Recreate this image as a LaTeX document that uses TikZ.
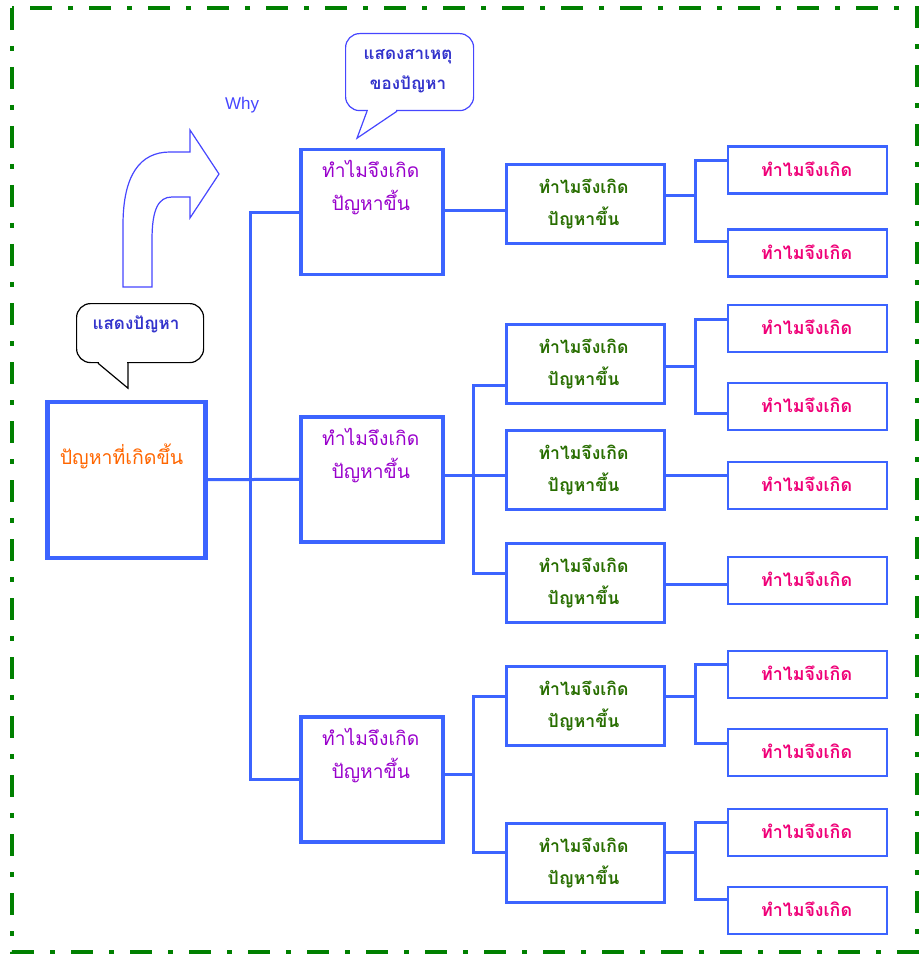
\documentclass[tikz,border=0pt]{standalone}
\usepackage{fontspec}
\setmainfont{Liberation Sans}
\newfontfamily\thai[Script=Thai]{Loma}
\usetikzlibrary{calc}
\definecolor{boxblue}{RGB}{60,100,255}
\definecolor{framegreen}{RGB}{0,128,0}
\definecolor{lonetext}{RGB}{153,0,204}
\definecolor{ltwotext}{RGB}{40,110,0}
\definecolor{lthreetext}{RGB}{240,0,120}
\definecolor{maintext}{RGB}{255,102,0}
\definecolor{calltext}{RGB}{51,51,204}
\definecolor{arrowblue}{RGB}{70,70,255}
\tikzset{
  boxbase/.style={draw=boxblue, fill=white, inner sep=0pt, anchor=north west},
  mainbox/.style={boxbase, line width=4.5pt, minimum width=158pt, minimum height=156pt},
  lonebox/.style={boxbase, line width=3.5pt, minimum width=142pt, minimum height=125pt},
  ltwobox/.style={boxbase, line width=3pt, minimum width=158pt, minimum height=78.5pt},
  lthreebox/.style={boxbase, line width=2.2pt, minimum width=159pt, minimum height=47pt},
  conn/.style={draw=boxblue, line width=3pt},
  lonetxt/.style={text=lonetext, font=\thai\fontsize{19.2}{33}\selectfont, align=center, inner sep=0pt},
  ltwotxt/.style={text=ltwotext, font=\thai\bfseries\fontsize{17.6}{32}\selectfont, align=center, inner sep=0pt},
  lthreetxt/.style={text=lthreetext, font=\thai\bfseries\fontsize{17.8}{20}\selectfont, inner sep=0pt},
  calltxt/.style={text=calltext, font=\thai\bfseries\fontsize{17}{30}\selectfont, align=center, inner sep=0pt},
}
\begin{document}
\begin{tikzpicture}[x=1pt,y=-1pt]
\useasboundingbox (0,0) rectangle (922,957);
% frame
\draw[framegreen, line width=4pt, dash pattern=on 22pt off 16pt on 5pt off 16pt] (12,8) rectangle (917,952);

% main box
\node[mainbox] (main) at (45,399.5) {};
\node[text=maintext, font=\thai\fontsize{19.5}{20}\selectfont, inner sep=0pt] (maint) at (121.5,456) {ปัญหาที่เกิดขึ้น};

% level 1
\node[lonebox] (l1a) at (299,148) {};
\node[lonebox] (l1b) at (299,415) {};
\node[lonebox] (l1c) at (299,715) {};
\node[lonetxt] (l1at) at ($(l1a.north)+(-1,40)$) {ทำไมจึงเกิด\\ปัญหาขึ้น};
\node[lonetxt] (l1bt) at ($(l1b.north)+(-1,41)$) {ทำไมจึงเกิด\\ปัญหาขึ้น};
\node[lonetxt] (l1ct) at ($(l1c.north)+(-1,41)$) {ทำไมจึงเกิด\\ปัญหาขึ้น};

% level 2
\node[ltwobox] (l2a) at (505,163.5) {};
\node[ltwobox] (l2b) at (505,323) {};
\node[ltwobox] (l2c) at (505,429) {};
\node[ltwobox] (l2d) at (505,542) {};
\node[ltwobox] (l2e) at (505,665) {};
\node[ltwobox] (l2f) at (505,822) {};
\foreach \n in {a,b,c,d,e,f}{
  \node[ltwotxt] (l2\n t) at ($(l2\n.center)+(-2,0)$) {ทำไมจึงเกิด\\ปัญหาขึ้น};
}

% level 3
\foreach \n/\y in {1/145.5,2/228.5,3/303.5,4/382,5/460.5,6/555.5,7/649.5,8/728,9/807.5,10/885.5}{
  \node[lthreebox] (l3-\n) at (727,\y) {};
  \node[lthreetxt] (l3-\n t) at ($(l3-\n.center)+(-1,-1)$) {ทำไมจึงเกิด};
}

% connectors main -> level 1
\coordinate (trunk) at (250,0);
\draw[conn] (main.east) -- (l1b.west);
\draw[conn] (l1a.west) -| (trunk |- l1c.west) -- (l1c.west);

% level 1 -> level 2
\coordinate (bktone) at (473,0);
\draw[conn] (l1a.east |- 0,211) -- (l2a.west |- 0,211);
\draw[conn] (l1b.east |- 0,475) -- (l2c.west |- 0,475);
\draw[conn] (l2b.west |- 0,385) -| (bktone |- 0,573) -- (l2d.west |- 0,573);
\draw[conn] (l1c.east |- 0,774) -- (bktone |- 0,774);
\draw[conn] (l2e.west |- 0,696) -| (bktone |- 0,852) -- (l2f.west |- 0,852);

% level 2 -> level 3
\coordinate (bkttwo) at (695,0);
\draw[conn] (l2a.east |- 0,196) -- (bkttwo |- 0,196);
\draw[conn] (l3-1.west |- 0,161) -| (bkttwo |- 0,242) -- (l3-2.west |- 0,242);
\draw[conn] (l2b.east |- 0,366) -- (bkttwo |- 0,366);
\draw[conn] (l3-3.west |- 0,319) -| (bkttwo |- 0,413) -- (l3-4.west |- 0,413);
\draw[conn] (l2c.east |- 0,475) -- (l3-5.west |- 0,475);
\draw[conn] (l2d.east |- 0,584) -- (l3-6.west |- 0,584);
\draw[conn] (l2e.east |- 0,696) -- (bkttwo |- 0,696);
\draw[conn] (l3-7.west |- 0,664) -| (bkttwo |- 0,743) -- (l3-8.west |- 0,743);
\draw[conn] (l2f.east |- 0,852) -- (bkttwo |- 0,852);
\draw[conn] (l3-9.west |- 0,822) -| (bkttwo |- 0,899) -- (l3-10.west |- 0,899);

% callout: problem
\node[draw=black, line width=1.2pt, rounded corners=14pt, fill=white, minimum width=127pt, minimum height=59pt, anchor=north west] (callp) at (76,303) {};
\fill[white] ($(callp.south west)+(23,-2)$) rectangle ($(callp.south west)+(51,2)$);
\draw[black, line width=1.2pt] ($(callp.south west)+(22,0)$) -- ($(callp.south west)+(52,25)$) -- ($(callp.south west)+(52,0)$);
\node[calltxt] (callpt) at (136,324) {แสดงปัญหา};

% callout: cause
\node[draw=arrowblue, line width=1.2pt, rounded corners=14pt, fill=white, minimum width=128pt, minimum height=77pt, anchor=north west] (callc) at (345,33) {};
\fill[white] ($(callc.south west)+(23,-2)$) rectangle ($(callc.south west)+(51,2)$);
\draw[arrowblue, line width=1.2pt] ($(callc.south west)+(22,0)$) -- ($(callc.south west)+(12,27)$) -- ($(callc.south west)+(52,0)$);
\node[calltxt] (callct) at (408,71) {แสดงสาเหตุ\\ของปัญหา};

% bent arrow
\draw[arrowblue, line width=1.2pt, fill=white, line join=miter]
  (123,287) -- (123,225) .. controls (123,175) and (140,152) .. (170,152) -- (190,152)
  -- (190,130) -- (219,174) -- (190,218) -- (190,197) -- (172,197)
  .. controls (158,197) and (152,210) .. (152,240) -- (152,287) -- cycle;
\node[text=arrowblue, font=\fontsize{17}{19}\selectfont, inner sep=0pt] (why) at (242,105) {Why};
\end{tikzpicture}
\end{document}
